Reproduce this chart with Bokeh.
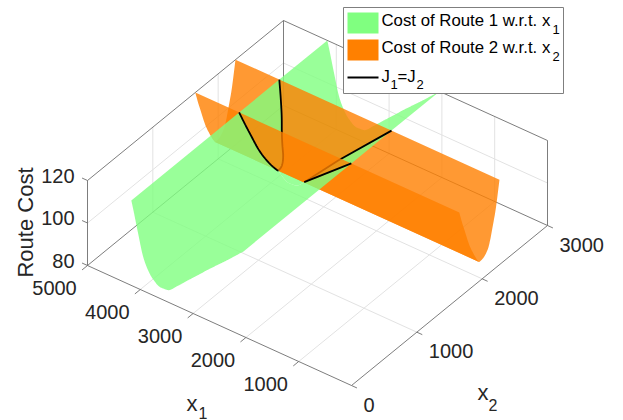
import numpy as np
from bokeh.plotting import figure
from bokeh.core.properties import value
from bokeh.embed import file_html
from bokeh.resources import INLINE

# ---- data ----
route1_x1 = [4170, 4129, 4053, 3939, 3850, 3769, 3617, 3485, 3300, 3106, 2900, 2727, 2349, 2045]
route1_cost = [120, 115.7, 107.2, 95.5, 90.6, 87.8, 85.3, 85.6, 89.5, 94.3, 99.3, 103.6, 112.5, 120]
route2_x2 = [1650, 1690, 1730, 1806, 1883, 1925, 1960, 2010, 2050, 2090, 2125, 2158, 2204, 2265]
route2_cost = [120, 114.5, 109.6, 100.6, 93.9, 90.8, 89, 89.3, 90.2, 92, 95.5, 100.2, 107, 120]
# cost levels of the coarse J1=J2 contour on the low-x1 side
contour_near_low = [89, 120]
contour_near_high = [89, 99, 120]
x1_ticks = [1000, 2000, 3000, 4000, 5000]
x2_ticks = [0, 1000, 2000, 3000]
z_ticks = [80, 100, 120]
X1_MAX, X2_MAX, Z_MIN, Z_MAX = 5000, 3000, 80, 120
series_names = ["Cost of Route 1 w.r.t. x", "Cost of Route 2 w.r.t. x"]
green, orange = "#80ff80", "#ff8000"
GRID, AXIS, TEXT = "#e2e2e2", "#6e6e6e", "#262626"
FONT = value("Liberation Sans")


def proj(x1, x2, z):
    x1, x2, z = np.asarray(x1, float), np.asarray(x2, float), np.asarray(z, float)
    t = (X1_MAX - x1) / X1_MAX
    s = x2 / X2_MAX
    return 87 + 264 * t + 196 * s, 265 + 120 * t - 160 * s - 85 * (z - Z_MIN) / (Z_MAX - Z_MIN)


def smooth(x, y, n=8):
    """Shape-preserving curve through the read values, for drawing only."""
    x, y = np.asarray(x, float), np.asarray(y, float)
    h = np.diff(x)
    d = np.diff(y) / h
    m = np.zeros_like(x)
    for i in range(1, len(x) - 1):
        if d[i - 1] * d[i] > 0:
            w1, w2 = 2 * h[i] + h[i - 1], h[i] + 2 * h[i - 1]
            m[i] = (w1 + w2) / (w1 / d[i - 1] + w2 / d[i])
    m[0], m[-1] = d[0], d[-1]
    xs, ys = [], []
    for i in range(len(h)):
        u = np.linspace(0, 1, n, endpoint=False)
        xs.append(x[i] + u * h[i])
        ys.append((2*u**3 - 3*u**2 + 1) * y[i] + (u**3 - 2*u**2 + u) * h[i] * m[i]
                  + (3*u**2 - 2*u**3) * y[i + 1] + (u**3 - u**2) * h[i] * m[i + 1])
    return np.r_[np.concatenate(xs), x[-1]], np.r_[np.concatenate(ys), y[-1]]


p = figure(width=623, height=420, x_range=(0, 623), y_range=(420, 0), output_backend="svg",
           toolbar_location=None, min_border=0)
p.axis.visible = False
p.grid.visible = False
p.outline_line_color = None
p.background_fill_color = "white"


def seg(a, b, color, width=1.0):
    xs, ys = proj(*zip(a, b))
    p.line(xs, ys, line_color=color, line_width=width)


# grid
for v in x1_ticks[:-1]:
    seg((v, 0, 80), (v, X2_MAX, 80), GRID)
    seg((v, X2_MAX, 80), (v, X2_MAX, 120), GRID)
for v in x2_ticks[1:-1]:
    seg((0, v, 80), (X1_MAX, v, 80), GRID)
    seg((X1_MAX, v, 80), (X1_MAX, v, 120), GRID)
seg((X1_MAX, 0, 100), (X1_MAX, X2_MAX, 100), GRID)
seg((X1_MAX, X2_MAX, 100), (0, X2_MAX, 100), GRID)

# box
for a, b in [((5000, 0, 120), (5000, 3000, 120)), ((5000, 3000, 120), (0, 3000, 120)),
             ((5000, 0, 80), (5000, 0, 120)), ((5000, 3000, 80), (5000, 3000, 120)),
             ((0, 3000, 80), (0, 3000, 120)), ((5000, 0, 80), (0, 0, 80)),
             ((0, 0, 80), (0, 3000, 80)), ((5000, 0, 80), (5000, 3000, 80)),
             ((5000, 3000, 80), (0, 3000, 80))]:
    seg(a, b, AXIS, 0.9)
for v in x1_ticks:
    seg((v, 0, 80), (v, -83, 80), AXIS, 0.9)
for v in x2_ticks:
    seg((0, v, 80), (-103, v, 80), AXIS, 0.9)
for v in z_ticks:
    seg((5000, 0, v), (5103, 0, v), AXIS, 0.9)

# surfaces: cut along the curves where the two costs are equal
x1a, j1 = smooth(route1_x1[::-1], route1_cost[::-1])
x2a, j2 = smooth(route2_x2, route2_cost)
iv1, iv2 = int(np.argmin(j1)), int(np.argmin(j2))
x1_val, x2_val, j2_min = x1a[iv1], x2a[iv2], j2[iv2]
ord_r = np.argsort(j1[:iv1 + 1])
ord_l = np.argsort(j1[iv1:])

# where the near wall of the orange valley folds over in the view
_px, _py = proj(np.full_like(x2a, X1_MAX), x2a, j2)
i_fold = int(np.argmax(_py * 264 - _px * 120))


def x1_right(z):
    return np.interp(z, j1[:iv1 + 1][ord_r], x1a[:iv1 + 1][ord_r])


def x1_left(z):
    return np.interp(z, j1[iv1:][ord_l], x1a[iv1:][ord_l])


def x2_low(z):
    return np.interp(z, j2[:iv2 + 1][::-1], x2a[:iv2 + 1][::-1])


def x2_high(z):
    return np.interp(z, j2[iv2:], x2a[iv2:])


S = np.unique(np.concatenate([x1a, x1_left(j2), x1_right(j2)]))
Z = np.interp(S, x1a, j1)
in_wedge = Z >= j2_min - 1e-9
low = np.where(in_wedge, x2_low(Z), x2_val)
high = np.where(in_wedge, x2_high(Z), x2_val)


def poly(xa, xb, za, color):
    pxa, pya = proj(*xa, za)
    pxb, pyb = proj(*xb, za)
    p.patch(np.r_[pxa, pxb[::-1]], np.r_[pya, pyb[::-1]], fill_color=color, fill_alpha=0.8,
            line_color=None)


def orange_part(idx):
    xs = x2a[idx]
    zs = j2[idx]
    px0, py0 = proj(np.full_like(xs, X1_MAX), xs, zs)
    px1, py1 = proj(np.full_like(xs, 0.0), xs, zs)
    p.patch(np.r_[px0, px1[::-1]], np.r_[py0, py1[::-1]], fill_color=orange, fill_alpha=0.8,
            line_color=None)


def black(xs, ys):
    p.line(xs, ys, line_color="black", line_width=1.8)


wedge_far = np.where(in_wedge & (S > x1_val))[0]
wedge_near = np.where(in_wedge & (S < x1_val))[0]

# back part of the green sheet
poly((S, high), (S, np.full_like(S, X2_MAX)), Z, green)
# the far side of the orange valley
orange_part(np.arange(i_fold, len(x2a)))
# the parts of the green sheet above the orange valley
for w in (wedge_far, wedge_near):
    poly((S[w], low[w]), (S[w], high[w]), Z[w], green)
black(*proj(S[wedge_far], high[wedge_far], Z[wedge_far]))
zc = np.array(contour_near_high, float)
black(*proj(x1_right(zc), np.where(zc <= j2_min, x2_val, x2_high(zc)), zc))
# the near wall of the orange valley
orange_part(np.arange(0, i_fold + 1))
# front part of the green sheet
poly((S, np.zeros_like(S)), (S, low), Z, green)
black(*proj(S[wedge_far], low[wedge_far], Z[wedge_far]))
zc = np.array(contour_near_low, float)
black(*proj(x1_right(zc), np.where(zc <= j2_min, x2_val, x2_low(zc)), zc))


def label(x, y, s, size, align="left", color=TEXT, angle=0.0):
    p.text([x], [y], text=[s], text_font=FONT, text_font_size=f"{size}px", text_color=color,
           text_align=align, text_baseline="middle", angle=angle)


# tick labels
for v in x1_ticks:
    x, y = proj(v, 0, 80)
    label(float(x) - 33, float(y) + 22, str(v), 20, "center")
for v in x2_ticks:
    x, y = proj(0, v, 80)
    label(float(x) + 12, float(y) + 19, str(v), 20, "left")
for v in z_ticks:
    x, y = proj(5000, 0, v)
    label(74, float(y) - 5, str(v), 20, "right")

# axis titles
label(25, 222, "Route Cost", 22, "center", angle=np.pi / 2)
label(186, 403, "x", 22)
label(198, 412, "1", 16)
label(477, 392, "x", 22)
label(488, 404, "2", 16)

# legend
p.quad(left=[343], right=[563], top=[7], bottom=[93], fill_color="white", line_color="#7f7f7f",
       line_width=1)
p.quad(left=[347], right=[378], top=[12], bottom=[33], fill_color=green, line_color=None)
p.quad(left=[347], right=[378], top=[39], bottom=[60], fill_color=orange, line_color=None)
p.line([347, 378], [77, 77], line_color="black", line_width=1.8)
label(381, 20, series_names[0], 16.8, color="black")
label(552, 29, "1", 13, color="black")
label(381, 47, series_names[1], 16.8, color="black")
label(552, 56, "2", 13, color="black")
label(381, 76, "J", 16.8, color="black")
label(390, 84, "1", 13, color="black")
label(397, 76, "=J", 16.8, color="black")
label(416, 84, "2", 13, color="black")

open("out.html", "w").write(file_html(p, INLINE))
